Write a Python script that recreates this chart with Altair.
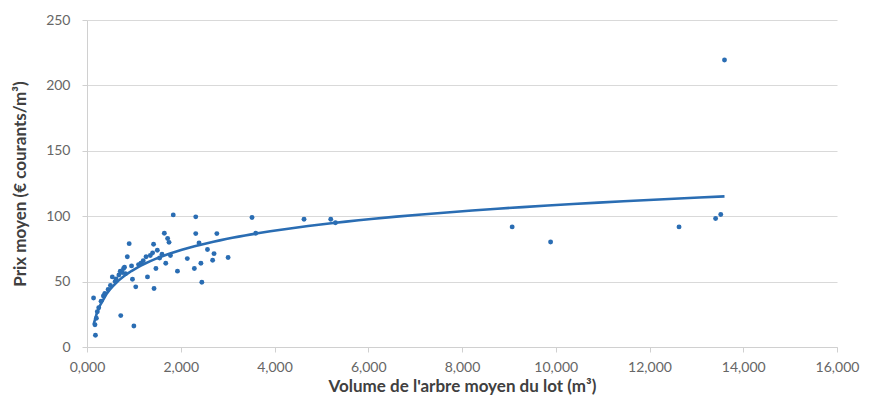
import altair as alt
import pandas as pd

volume = [0.14, 0.17, 0.18, 0.20, 0.22, 0.25, 0.30, 0.35, 0.38, 0.45, 0.50, 0.54,
          0.60, 0.62, 0.68, 0.71, 0.72, 0.75, 0.78, 0.80, 0.82, 0.86, 0.90, 0.95,
          0.97, 1.00, 1.04, 1.10, 1.15, 1.20, 1.26, 1.29, 1.35, 1.40, 1.42, 1.43,
          1.47, 1.50, 1.55, 1.60, 1.65, 1.68, 1.72, 1.75, 1.78, 1.84, 1.93, 2.14,
          2.29, 2.32, 2.32, 2.39, 2.43, 2.45, 2.57, 2.68, 2.71, 2.77, 3.01, 3.52,
          3.60, 4.63, 5.20, 5.30, 9.07, 9.89, 12.63, 13.41, 13.52, 13.60]
prix = [37.5, 17, 9, 22, 27, 30, 35, 39, 41, 44, 47, 53.6,
        50, 52, 55, 58, 24, 57, 60, 61, 56, 69, 79, 62,
        51.8, 16, 46, 63, 64, 66, 69, 53.6, 70, 72, 78.6, 44.7,
        60, 74, 68, 71, 87, 64, 83, 80, 70, 101, 58, 67.6,
        60, 99.5, 86.7, 79.6, 64, 49.5, 74.5, 66.3, 71.4, 86.7, 68.4, 99,
        87, 97.7, 97.7, 95, 91.8, 80.3, 91.8, 98.2, 101.3, 219.4]

df = pd.DataFrame({"volume": volume, "prix": prix})

FONT = "Lato, Open Sans, sans-serif"
BLUE = "#2a6db3"

x = alt.X("volume:Q",
          scale=alt.Scale(domain=[0, 16], nice=False),
          axis=alt.Axis(title="Volume de l'arbre moyen du lot (m³)",
                        values=[0, 2, 4, 6, 8, 10, 12, 14, 16],
                        labelExpr="replace(format(datum.value, '.3f'), '.', ',')",
                        labelFlush=False, labelOverlap=False,
                        grid=False, domainColor="#d0d0d0", tickColor="#d0d0d0",
                        tickSize=5, labelPadding=8, titlePadding=4))
y = alt.Y("prix:Q",
          scale=alt.Scale(domain=[0, 250], nice=False),
          axis=alt.Axis(title="Prix moyen (€ courants/m³)",
                        values=[0, 50, 100, 150, 200, 250],
                        grid=True, gridColor="#d9d9d9", gridWidth=1.2,
                        domainColor="#d0d0d0", tickColor="#d0d0d0",
                        tickSize=5, labelPadding=12, titlePadding=16))

points = alt.Chart(df).mark_point(filled=True, size=24, color=BLUE, opacity=1).encode(x=x, y=y)

trend = alt.Chart(df).transform_regression(
    "volume", "prix", method="log"
).mark_line(color=BLUE, strokeWidth=2.6).encode(x=x, y=y)

chart = alt.layer(points, trend).properties(
    width=750, height=327,
    autosize=alt.AutoSizeParams(type="none"),
    padding={"left": 79, "top": 12, "right": 26, "bottom": 50},
).configure_view(stroke=None).configure_axis(
    labelFont=FONT, titleFont=FONT, labelFontSize=14, titleFontSize=17,
    labelColor="#666666", titleColor="#404040", titleFontWeight="bold"
)

chart.save("out.html", embed_options={"renderer": "svg", "actions": False})
